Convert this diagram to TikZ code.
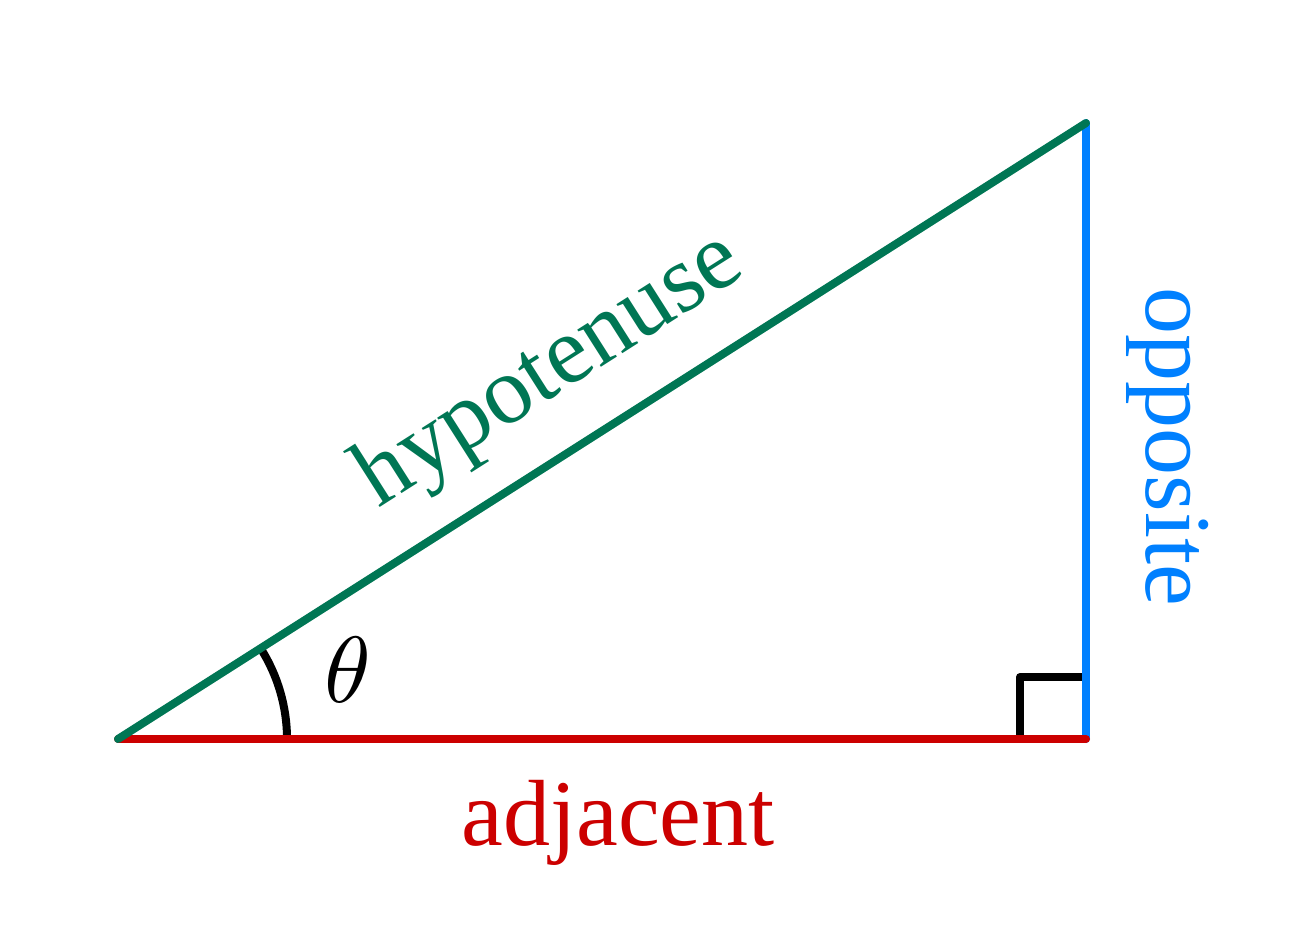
\documentclass[tikz,border=0pt]{standalone}
\usepackage{fontspec}
\setmainfont{Liberation Serif}
\usetikzlibrary{calc}
\definecolor{hypgreen}{RGB}{0,118,84}
\definecolor{oppblue}{RGB}{0,128,255}
\definecolor{adjred}{RGB}{204,0,0}
\begin{document}
\begin{tikzpicture}[x=1pt,y=-1pt,
  side/.style={line width=8pt, line cap=round, line join=round},
  lbl/.style={font=\fontsize{94}{110}\selectfont, inner sep=0pt}]
\useasboundingbox (0,0) rectangle (1301,942);
\coordinate (A) at (118,739);
\coordinate (B) at (1086,739);
\coordinate (C) at (1086,123);
\coordinate (S1) at (1020,739);
\coordinate (S2) at (1020,677);
\coordinate (S3) at (1086,677);
\coordinate (R0) at (287,739);
% right angle mark and angle arc
\draw[side, line cap=butt, black] (S1) -- (S2) -- (S3);
\draw[side, line cap=butt, black] (R0) arc[start angle=0, end angle=-32.47, radius=169];
% sides
\draw[side, oppblue] (B) -- (C);
\draw[side, adjred] (A) -- (B);
\draw[side, hypgreen] (A) -- (C);
% labels
\node[lbl, text=adjred, anchor=base] (adj) at (618,845) {adjacent};
\node[lbl, text=oppblue, anchor=base, rotate=-90] (opp) at (1146,447) {opposite};
\node[lbl, font=\fontsize{96}{110}\selectfont, text=hypgreen, anchor=base, rotate=32.47] (hyp) at (563,391) {hypotenuse};
\node[inner sep=0pt, scale=9.4] (theta) at (348,670) {$\theta$};
\end{tikzpicture}
\end{document}
